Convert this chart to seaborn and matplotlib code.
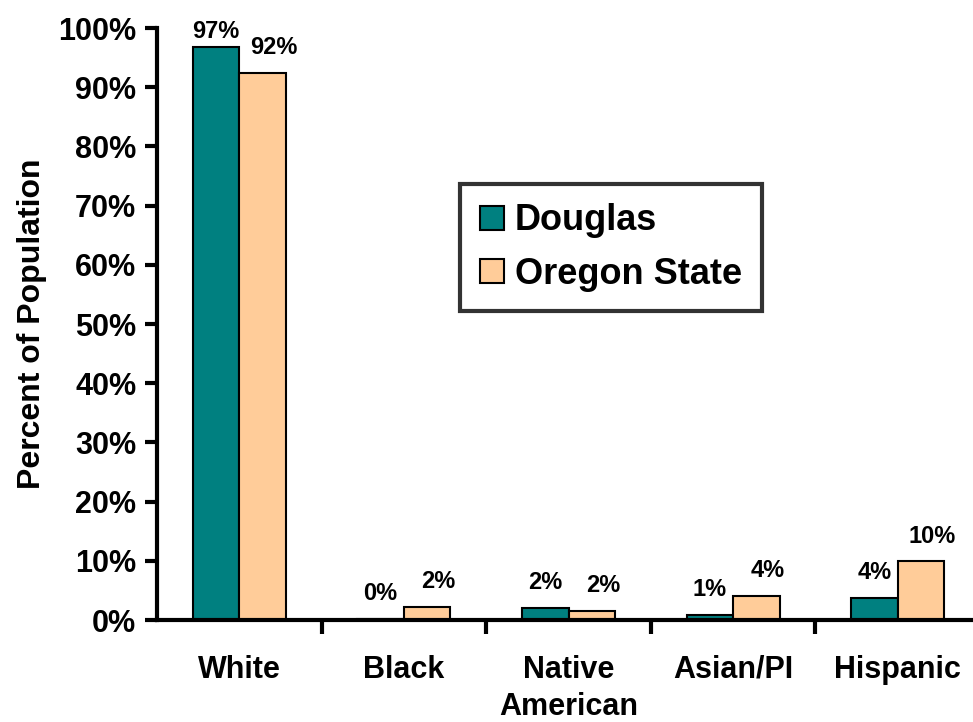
import matplotlib
matplotlib.use("Agg")
import matplotlib.pyplot as plt
import seaborn as sns
import pandas as pd

categories = ["White", "Black", "Native\nAmerican", "Asian/PI", "Hispanic"]
series = ["Douglas", "Oregon State"]
douglas = [96.8, 0.2, 2.0, 0.8, 3.8]
oregon = [92.4, 2.2, 1.6, 4.0, 9.9]
douglas_labels = ["97%", "0%", "2%", "1%", "4%"]
oregon_labels = ["92%", "2%", "2%", "4%", "10%"]
colors = ["#008080", "#FFCC99"]

df = pd.DataFrame({
    "Category": categories * 2,
    "Series": [series[0]] * len(categories) + [series[1]] * len(categories),
    "Value": douglas + oregon,
})

sns.set_style("white")
plt.rcParams["font.family"] = ["Liberation Sans", "DejaVu Sans"]
plt.rcParams["font.weight"] = "bold"
for k in ["text.color", "axes.labelcolor", "xtick.color", "ytick.color", "axes.edgecolor"]:
    plt.rcParams[k] = "black"

fig = plt.figure(figsize=(9.73, 7.22), dpi=100)
ax = fig.add_axes([157 / 973, 1 - 620 / 722, (980 - 157) / 973, (620 - 28) / 722])

sns.barplot(data=df, x="Category", y="Value", hue="Series", order=categories,
            hue_order=series, palette=colors, edgecolor="black", linewidth=1.5,
            width=0.565, ax=ax, saturation=1)

for cont, labs, dx in zip(ax.containers, [douglas_labels, oregon_labels], [0, 8]):
    anns = ax.bar_label(cont, labels=labs, padding=10, fontsize=17, fontweight="bold",
                        color="black")
    for a in anns:
        a.xyann = (dx, a.xyann[1])
# top label sits closer to its tall bar (limited by plot area)
ax.texts[0].xyann = (0, 3)

ax.set_ylim(0, 100)
ax.set_xlim(-0.5, len(categories) - 0.5)
ax.set_yticks(range(0, 101, 10))
ax.set_yticklabels([f"{v}%" for v in range(0, 101, 10)], fontsize=22, fontweight="bold")
ax.set_xticks([i + 0.5 for i in range(len(categories) - 1)], minor=False)
ax.set_xticklabels([])
ax.tick_params(axis="x", direction="out", length=10, width=3, color="black", bottom=True)
ax.tick_params(axis="y", direction="out", length=9, width=3, color="black", left=True, pad=6)
for i, c in enumerate(categories):
    ax.text(i, -5.9, c, ha="center", va="top", fontsize=22, fontweight="bold",
            transform=ax.transData, linespacing=1.3, color="black")

ax.set_xlabel("")
ax.set_ylabel("Percent of Population", fontsize=23, fontweight="bold", labelpad=8)

for s in ["top", "right"]:
    ax.spines[s].set_visible(False)
for s in ["left", "bottom"]:
    ax.spines[s].set_linewidth(3)
    ax.spines[s].set_color("black")

leg = ax.legend(loc="center", bbox_to_anchor=((611 - 157) / 823, 1 - (247.5 - 28) / 592),
                borderaxespad=0, frameon=True, fancybox=False, edgecolor="black",
                handlelength=0.65, handleheight=0.65, handletextpad=0.3,
                borderpad=0.55, labelspacing=0.5, prop={"weight": "bold", "size": 26})
leg.get_frame().set_linewidth(3)
leg.set_title(None)

fig.savefig("out.png", dpi=100)
